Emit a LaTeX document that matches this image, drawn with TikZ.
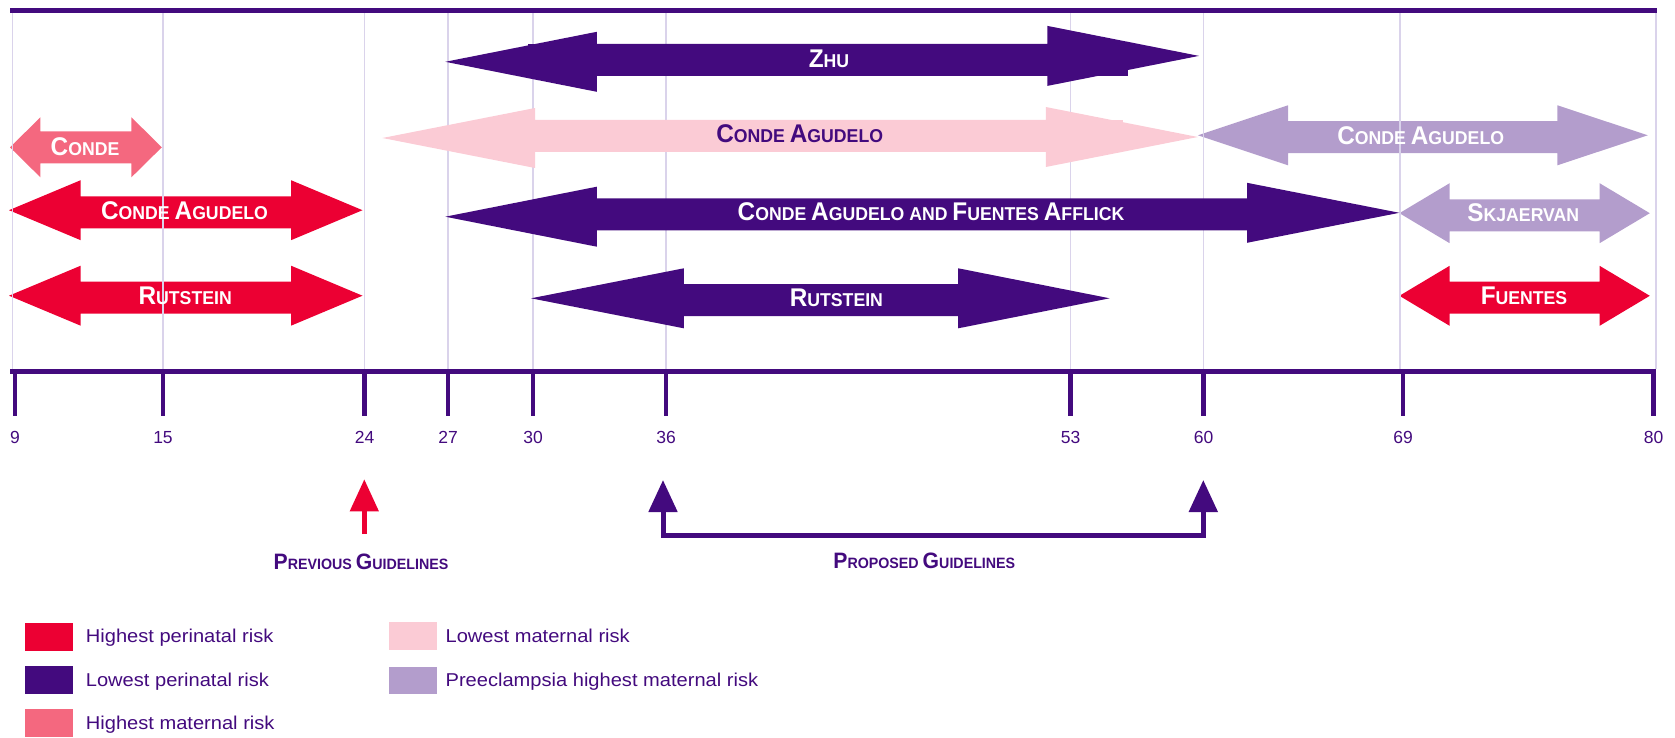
\documentclass[tikz,border=0pt]{standalone}
\usepackage{fontspec}
\setmainfont{Liberation Sans}
\newfontfamily\labfont[FakeStretch=0.95]{Liberation Sans}
\newfontfamily\legfont[FakeStretch=1.08]{Liberation Sans}
\usetikzlibrary{arrows.meta}
\definecolor{dpurple}{HTML}{430A7E}
\definecolor{redc}{HTML}{EC0033}
\definecolor{pinkred}{HTML}{F4687F}
\definecolor{lpink}{HTML}{FBCBD5}
\definecolor{lav}{HTML}{B39DCC}
\definecolor{gridc}{HTML}{DAD3EB}
\newcommand\dbl[8]{\fill[#1] (#2,#7) -- (#3,#7-30) -- (#3,#6-16) -- (#4,#6-16) -- (#4,#8-30) -- (#5,#8) -- (#4,#8+30) -- (#4,#6+16) -- (#3,#6+16) -- (#3,#7+30) -- cycle;}
\newcommand\Lc[1]{{\fontsize{25.6}{26}\selectfont #1}}
\newcommand\Gc[1]{{\fontsize{22.3}{23}\selectfont #1}}
\tikzset{
  gridline/.style={draw=gridc, line width=1.1},
  arrlab/.style={anchor=base, inner sep=0, text=white, font=\labfont\bfseries\fontsize{18.6}{19}\selectfont},
  guidelab/.style={anchor=base, inner sep=0, text=dpurple, font=\labfont\bfseries\fontsize{15}{16}\selectfont},
  ticklab/.style={anchor=base, inner sep=0, text=dpurple, font=\fontsize{17.5}{18}\selectfont},
  leglab/.style={anchor=base west, inner sep=0, text=dpurple, font=\legfont\fontsize{18.6}{19}\selectfont},
  axisline/.style={draw=dpurple, line width=5},
  tickline/.style={draw=dpurple, line width=4.5},
}
\begin{document}
\begin{tikzpicture}[x=1pt,y=-1pt]
\useasboundingbox (0,0) rectangle (1675,738);
% arrows behind the grid
\dbl{pinkred}{10}{40.4}{131.4}{161.8}{147.5}{147.3}{147.3}
\dbl{redc}{9}{80.7}{291}{362.5}{212.3}{210.2}{210.2}
\dbl{redc}{9}{80.7}{291}{362.5}{297.7}{295.7}{295.7}
\dbl{lav}{1197.9}{1288}{1557.4}{1647.8}{137.2}{135.3}{135.3}
\dbl{lav}{1399.4}{1449.6}{1599.6}{1649.8}{215.3}{213.2}{213.2}
\dbl{redc}{1399.4}{1449.6}{1599.6}{1649.8}{297.7}{295.8}{295.8}
% grid
\foreach \gx in {12.5,163,364.5,448,533,666,1070.5,1203.5,1400,1656}
  \draw[gridline] (\gx,13) -- (\gx,369);
% arrows in front of the grid
\dbl{lpink}{382.4}{535}{1045.8}{1197.8}{135.8}{138}{137}
\fill[lpink] (1045.8,120) rectangle (1123,151.7);
\dbl{dpurple}{445.3}{596.8}{1047.4}{1199}{60}{61.8}{55.9}
\fill[dpurple] (528,43.7) rectangle (1128,76.3);
\dbl{dpurple}{445.3}{596.8}{1247}{1399.4}{214.3}{216.7}{212.8}
\dbl{dpurple}{531}{683.8}{958.2}{1109.7}{300}{298.3}{298.3}
% top bar and axis
\draw[axisline] (10,10.8) -- (1657,10.8);
\draw[axisline] (10,371) -- (1656,371);
\foreach \tx/\tv in {15/9,163/15,364.5/24,448/27,533/30,666/36,1070.5/53,1203.5/60,1403/69,1653.5/80}{
  \draw[tickline] (\tx,371) -- (\tx,416);
  \node[ticklab] (t\tv) at (\tx,443) {\tv};
}
% arrow labels
\node[arrlab] (lconde) at (85,155.9) {\Lc{C}ONDE};
\node[arrlab] (lcared) at (184.5,219.5) {\Lc{C}ONDE \Lc{A}GUDELO};
\node[arrlab] (lrutred) at (185.2,304.9) {\Lc{R}UTSTEIN};
\node[arrlab] (lzhu) at (829,67.5) {\Lc{Z}HU};
\node[arrlab, text=dpurple] (lcapink) at (799.7,142.3) {\Lc{C}ONDE \Lc{A}GUDELO};
\node[arrlab] (lcalav) at (1420.7,144.2) {\Lc{C}ONDE \Lc{A}GUDELO};
\node[arrlab] (lcafa) at (931,220.9) {\Lc{C}ONDE \Lc{A}GUDELO AND \Lc{F}UENTES \Lc{A}FFLICK};
\node[arrlab] (lskj) at (1523.3,221.9) {\Lc{S}KJAERVAN};
\node[arrlab] (lfuen) at (1524,304.9) {\Lc{F}UENTES};
\node[arrlab] (lrutpur) at (836.4,306.9) {\Lc{R}UTSTEIN};
% guidelines
\coordinate (prevbase) at (364.3,534);
\coordinate (prevtip) at (364.3,479.3);
\draw[draw=redc, line width=4.5, -{Triangle[length=32pt,width=28pt]}] (prevbase) -- (prevtip);
\node[guidelab] (lprev) at (361,569.7) {\Gc{P}REVIOUS \Gc{G}UIDELINES};
\coordinate (propl) at (663,480);
\coordinate (propr) at (1203.3,480);
\coordinate (propbl) at (663,535.7);
\coordinate (propbr) at (1203.3,535.7);
\draw[draw=dpurple, line width=5, line join=miter, {Triangle[length=32pt,width=28pt]}-{Triangle[length=32pt,width=28pt]}] (propl) -- (propbl) -- (propbr) -- (propr);
\node[guidelab] (lprop) at (924.3,568.7) {\Gc{P}ROPOSED \Gc{G}UIDELINES};
% legend
\fill[redc] (24.5,622.7) rectangle (73,650.7);
\fill[dpurple] (24.5,666) rectangle (73,694);
\fill[pinkred] (24.5,709.3) rectangle (73,736.7);
\fill[lpink] (388.8,622) rectangle (437.2,650);
\fill[lav] (388.8,666.7) rectangle (437.2,694.3);
\node[leglab] (g1) at (85.7,642.7) {Highest perinatal risk};
\node[leglab] (g2) at (85.7,686) {Lowest perinatal risk};
\node[leglab] (g3) at (85.7,729.3) {Highest maternal risk};
\node[leglab] (g4) at (445.4,642) {Lowest maternal risk};
\node[leglab] (g5) at (445.4,686.5) {Preeclampsia highest maternal risk};
\end{tikzpicture}
\end{document}
